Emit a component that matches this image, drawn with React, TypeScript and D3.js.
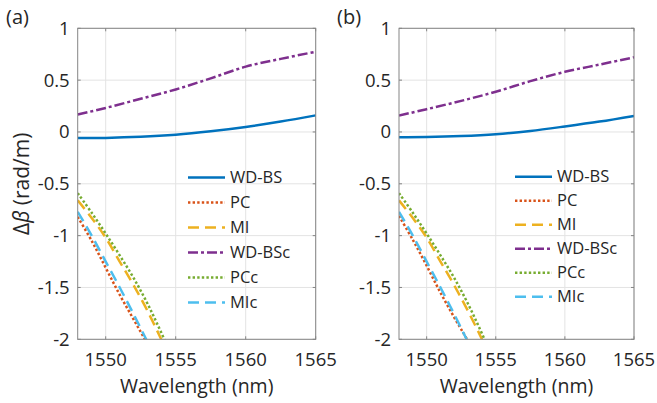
import React from "react";
import * as d3 from "d3";

// ---- data ----
const xTicks = [1550, 1555, 1560, 1565];
const yTicks = [1, 0.5, 0, -0.5, -1, -1.5, -2];
const seriesNames = ["WD-BS", "PC", "MI", "WD-BSc", "PCc", "MIc"];

// panel (a)
const wlSmooth = [1548, 1550, 1552.5, 1555, 1557.5, 1560, 1562.5, 1565];
const aWDBS = [-0.058, -0.057, -0.047, -0.027, 0.006, 0.048, 0.1, 0.16];
const aWDBSc = [0.168, 0.232, 0.32, 0.41, 0.517, 0.63, 0.705, 0.774];
const wlSteep = [1548, 1549, 1550, 1551, 1552, 1553, 1554, 1555];
const aPC = [-0.82, -1.05, -1.31, -1.57, -1.81, -2.05, -2.3, -2.55];
const aMI = [-0.66, -0.83, -1.02, -1.25, -1.48, -1.73, -2.01, -2.3];
const aPCc = [-0.59, -0.78, -0.98, -1.19, -1.41, -1.66, -1.945, -2.25];
const aMIc = [-0.77, -1.0, -1.25, -1.5, -1.76, -2.03, -2.3, -2.57];

// panel (b)
const bWDBS = [-0.05, -0.049, -0.04, -0.022, 0.01, 0.053, 0.1, 0.155];
const bWDBSc = [0.158, 0.22, 0.3, 0.388, 0.49, 0.58, 0.65, 0.72];
const bPC = [-0.81, -1.04, -1.29, -1.55, -1.79, -2.02, -2.28, -2.53];
const bMI = [-0.66, -0.83, -1.02, -1.25, -1.48, -1.73, -2.0, -2.3];
const bPCc = [-0.59, -0.78, -0.98, -1.19, -1.41, -1.66, -1.945, -2.25];
const bMIc = [-0.77, -1.0, -1.25, -1.5, -1.76, -2.03, -2.3, -2.57];

const colors = ["#0072BD", "#D95319", "#EDB120", "#7E2F8E", "#77AC30", "#4DBEEE"];
const dashes = ["none", "2.4,2.2", "11,6", "10,3,3,3", "2.4,2.2", "11,6"];

const FONT = "'Open Sans', sans-serif";
const TXT = "#262626";

type PanelProps = {
  id: string;
  label: string;
  labelX: number;
  x0: number;
  x1: number;
  showYLabel: boolean;
  smooth: number[][];
  steep: number[][];
  legX: number;
  legY0: number;
  legStep: number;
};

function Panel(p: PanelProps) {
  const x = d3.scaleLinear().domain([1548, 1565]).range([p.x0, p.x1]);
  const y = d3.scaleLinear().domain([-2, 1]).range([339.3, 28.3]);
  const line = d3
    .line<[number, number]>()
    .x((d) => x(d[0]))
    .y((d) => y(d[1]))
    .curve(d3.curveCatmullRom.alpha(0.5));
  // series order: WD-BS, PC, MI, WD-BSc, PCc, MIc
  const data: [number, number][][] = [
    wlSmooth.map((w, i) => [w, p.smooth[0][i]] as [number, number]),
    wlSteep.map((w, i) => [w, p.steep[0][i]] as [number, number]),
    wlSteep.map((w, i) => [w, p.steep[1][i]] as [number, number]),
    wlSmooth.map((w, i) => [w, p.smooth[1][i]] as [number, number]),
    wlSteep.map((w, i) => [w, p.steep[2][i]] as [number, number]),
    wlSteep.map((w, i) => [w, p.steep[3][i]] as [number, number]),
  ];
  const [r0, r1] = x.range();
  const [yb, yt] = y.range();
  const axisColor = "#858585";
  return (
    <g>
      <defs>
        <clipPath id={"clip" + p.id}>
          <rect x={r0} y={yt} width={r1 - r0} height={yb - yt} />
        </clipPath>
      </defs>
      <rect x={r0} y={yt} width={r1 - r0} height={yb - yt} fill="#fff" />
      {/* grid */}
      {xTicks.map((t) => (
        <line key={"gx" + t} x1={x(t)} x2={x(t)} y1={yt} y2={yb} stroke="#e3e3e3" strokeWidth={1} />
      ))}
      {yTicks.map((t) => (
        <line key={"gy" + t} x1={r0} x2={r1} y1={y(t)} y2={y(t)} stroke="#e3e3e3" strokeWidth={1} />
      ))}
      {/* lines */}
      <g clipPath={`url(#clip${p.id})`}>
        {data.map((d, i) => (
          <path
            key={i}
            d={line(d) || ""}
            fill="none"
            stroke={colors[i]}
            strokeWidth={2.5}
            strokeDasharray={dashes[i]}
          />
        ))}
      </g>
      {/* box */}
      <rect x={r0} y={yt} width={r1 - r0} height={yb - yt} fill="none" stroke={axisColor} strokeWidth={1} />
      {xTicks.map((t) => (
        <g key={"tx" + t}>
          <line x1={x(t)} x2={x(t)} y1={yb} y2={yb - 3} stroke={axisColor} />
          <line x1={x(t)} x2={x(t)} y1={yt} y2={yt + 3} stroke={axisColor} />
          <text x={x(t)} y={365.5} textAnchor="middle" fontFamily={FONT} fontSize={18.5} fill={TXT}>
            {t}
          </text>
        </g>
      ))}
      {yTicks.map((t) => (
        <g key={"ty" + t}>
          <line x1={r0} x2={r0 + 3} y1={y(t)} y2={y(t)} stroke={axisColor} />
          <line x1={r1} x2={r1 - 3} y1={y(t)} y2={y(t)} stroke={axisColor} />
          <text
            x={r0 - 8}
            y={y(t)}
            dy="0.35em"
            textAnchor="end"
            fontFamily={FONT}
            fontSize={18.5}
            fill={TXT}
          >
            {t}
          </text>
        </g>
      ))}
      <text
        x={(r0 + r1) / 2}
        y={393}
        textAnchor="middle"
        fontFamily={FONT}
        fontSize={19.5}
        fill={TXT}
      >
        Wavelength (nm)
      </text>
      {p.showYLabel && (
        <text
          transform={`translate(29,${(yt + yb) / 2}) rotate(-90)`}
          textAnchor="middle"
          fontFamily={FONT}
          fontSize={21}
          fill={TXT}
        >
          Δ<tspan fontStyle="italic">β</tspan> (rad/m)
        </text>
      )}
      <text x={p.labelX} y={24} fontFamily={FONT} fontSize={20} fill={TXT}>
        {p.label}
      </text>
      {/* legend */}
      {seriesNames.map((n, i) => {
        const yy = p.legY0 + i * p.legStep;
        return (
          <g key={"lg" + n}>
            <line
              x1={p.legX}
              x2={p.legX + 37}
              y1={yy}
              y2={yy}
              stroke={colors[i]}
              strokeWidth={2.5}
              strokeDasharray={dashes[i]}
            />
            <text x={p.legX + 42} y={yy} dy="0.35em" fontFamily={FONT} fontSize={16.5} fill={TXT}>
              {n}
            </text>
          </g>
        );
      })}
    </g>
  );
}

export default function App() {
  return (
    <svg
      width={657}
      height={403}
      style={{ position: "absolute", left: 0, top: 0, background: "#fff" }}
    >
      <rect width={657} height={403} fill="#fff" />
      <Panel
        id="a"
        label="(a)"
        labelX={6}
        x0={77.7}
        x1={315.7}
        showYLabel={true}
        smooth={[aWDBS, aWDBSc]}
        steep={[aPC, aMI, aPCc, aMIc]}
        legX={188}
        legY0={177.5}
        legStep={25}
      />
      <Panel
        id="b"
        label="(b)"
        labelX={337}
        x0={399}
        x1={634}
        showYLabel={false}
        smooth={[bWDBS, bWDBSc]}
        steep={[bPC, bMI, bPCc, bMIc]}
        legX={515}
        legY0={176.7}
        legStep={24}
      />
    </svg>
  );
}
